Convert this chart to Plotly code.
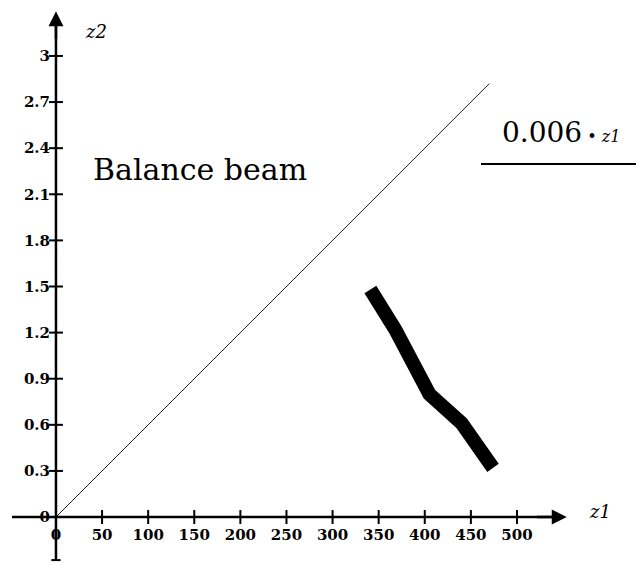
import plotly.graph_objects as go

# ---- data ----
x_ticks = [0, 50, 100, 150, 200, 250, 300, 350, 400, 450, 500]
x_ticktext = ["0", "50", "100", "150", "200", "250", "300", "350", "400", "450", "500"]
y_ticks = [0, 0.3, 0.6, 0.9, 1.2, 1.5, 1.8, 2.1, 2.4, 2.7, 3]
y_ticktext = ["0", "0.3", "0.6", "0.9", "1.2", "1.5", "1.8", "2.1", "2.4", "2.7", "3"]

line_z1 = [0, 470]          # 0.006 * z1 reference line
line_z2 = [0, 2.82]

beam_z1 = [341, 368, 405, 440, 474]   # Balance beam curve
beam_z2 = [1.48, 1.22, 0.80, 0.61, 0.32]

# ---- view ----
X_RANGE = [-60.7, 629.1]
Y_RANGE = [-0.299, 3.364]
W, H = 636, 563

fig = go.Figure()

fig.add_trace(go.Scatter(x=line_z1, y=line_z2, mode="lines",
                         line=dict(color="#222222", width=1), hoverinfo="skip"))
fig.add_trace(go.Scatter(x=beam_z1, y=beam_z2, mode="lines",
                         line=dict(color="black", width=14), hoverinfo="skip"))

# crossing tick marks
fig.add_trace(go.Scatter(x=x_ticks, y=[0] * len(x_ticks), mode="markers",
                         marker=dict(symbol="line-ns-open", size=10, color="black",
                                     line=dict(color="black", width=2)),
                         hoverinfo="skip"))
fig.add_trace(go.Scatter(x=[0] * len(y_ticks), y=y_ticks, mode="markers",
                         marker=dict(symbol="line-ew-open", size=10, color="black",
                                     line=dict(color="black", width=2)),
                         hoverinfo="skip"))

# axis lines
fig.add_shape(type="line", x0=-47.7, y0=0, x1=545, y1=0,
              line=dict(color="black", width=2.5))
fig.add_shape(type="line", x0=0, y0=-0.28, x1=0, y1=3.25,
              line=dict(color="black", width=2.5))
fig.add_shape(type="line", x0=-5, y0=-0.28, x1=5, y1=-0.28,
              line=dict(color="black", width=2))

# arrow heads
fig.add_annotation(x=554, y=0, ax=520, ay=0, axref="x", ayref="y",
                   xref="x", yref="y", text="", showarrow=True,
                   arrowhead=2, arrowsize=1.2, arrowwidth=2.5, arrowcolor="black")
fig.add_annotation(x=0, y=3.29, ax=0, ay=3.1, axref="x", ayref="y",
                   xref="x", yref="y", text="", showarrow=True,
                   arrowhead=2, arrowsize=1.2, arrowwidth=2.5, arrowcolor="black")

# labels
def label(px, py, text, size):
    fig.add_annotation(x=px / W, y=1 - py / H, xref="paper", yref="paper",
                       xanchor="center", yanchor="middle",
                       text=text, showarrow=False,
                       font=dict(family="DejaVu Serif", size=size, color="black"))

label(96, 31, "<i>z2</i>", 18)
label(600, 511, "<i>z1</i>", 18)
label(200, 170, "Balance beam", 30)
label(561, 132, "0.006<span style='font-size:16px'> \u2022 <i>z1</i></span>", 28)
fig.add_shape(type="line", xref="paper", yref="paper",
              x0=481 / W, x1=1, y0=1 - 164 / H, y1=1 - 164 / H,
              line=dict(color="black", width=2))

tickfont = dict(family="DejaVu Serif", size=15, color="black", weight="bold")
fig.update_layout(
    width=W, height=H,
    margin=dict(l=0, r=0, t=0, b=0),
    paper_bgcolor="white", plot_bgcolor="white",
    showlegend=False,
    xaxis=dict(range=X_RANGE, showgrid=False, zeroline=False, showline=False,
               tickvals=x_ticks, ticktext=x_ticktext, tickfont=tickfont,
               ticks="outside", ticklen=4, tickcolor="rgba(0,0,0,0)",
               anchor="free", position=(H - 517) / H, fixedrange=True),
    yaxis=dict(range=Y_RANGE, showgrid=False, zeroline=False, showline=False,
               tickvals=y_ticks, ticktext=y_ticktext, tickfont=tickfont,
               ticks="outside", ticklen=3, tickcolor="rgba(0,0,0,0)",
               anchor="free", position=56 / W, fixedrange=True),
)

fig.write_html("out.html",
               config={"displayModeBar": False, "staticPlot": True},
               post_script="document.body.style.margin='0';document.body.style.overflow='hidden';")
